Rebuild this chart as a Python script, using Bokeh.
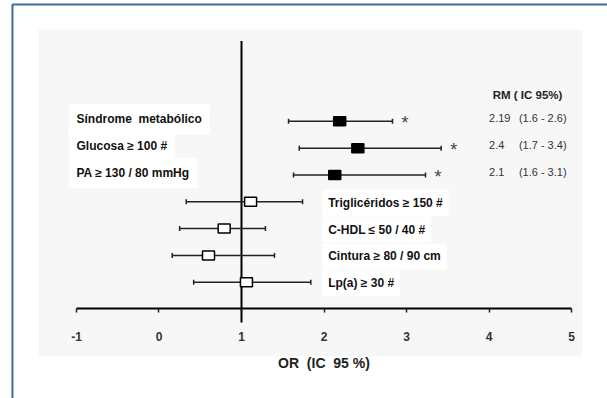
from bokeh.plotting import figure
from bokeh.models import LinearAxis, FixedTicker, Range1d
from bokeh.embed import file_html
from bokeh.resources import INLINE
from bokeh.core.properties import value

# ---- data ----
labels = ["Síndrome\u00a0 metabólico", "Glucosa ≥ 100 #", "PA ≥ 130 / 80 mmHg",
          "Triglicéridos ≥ 150 #", "C-HDL ≤ 50 / 40 #", "Cintura ≥ 80 / 90 cm", "Lp(a) ≥ 30 #"]
rows = [7, 6, 5, 4, 3, 2, 1]
est = [2.19, 2.41, 2.13, 1.11, 0.79, 0.60, 1.06]
lo = [1.57, 1.70, 1.63, 0.33, 0.25, 0.16, 0.42]
hi = [2.83, 3.42, 3.23, 1.74, 1.29, 1.40, 1.84]
significant = [True, True, True, False, False, False, False]
rm_est = ["2.19", "2.4", "2.1"]
rm_ci = ["(1.6 - 2.6)", "(1.7 - 3.4)", "(1.6 - 3.1)"]
rm_header = "RM ( IC 95%)"
x_ticks = [-1, 0, 1, 2, 3, 4, 5]
x_tick_labels = ["-1", "0", "1", "2", "3", "4", "5"]
x_title = "OR\u00a0 (IC\u00a0 95 %)"

FONT = "Liberation Sans"

p = figure(width=607, height=398, x_range=Range1d(-1.921, 5.436), y_range=Range1d(-3.34, 11.51),
           output_backend="svg", toolbar_location=None, min_border=0,
           x_axis_location=None, y_axis_location=None)
p.grid.visible = False
p.outline_line_color = None
p.background_fill_color = "white"
p.border_fill_color = "white"

# faint grey panel
p.quad(left=-1.461, right=5.133, bottom=-1.77, top=10.43, fill_color="#f7f7f7", line_color=None)

# outer blue frame (left and top)
p.line(x=[-1.776, -1.776, 5.6], y=[-3.5, 11.36, 11.36], line_color="#3d6aa8", line_width=2)

# axis
ax = LinearAxis(fixed_location=0, ticker=FixedTicker(ticks=x_ticks), bounds=(-1, 5),
                major_label_overrides={t: s for t, s in zip(x_ticks, x_tick_labels)},
                axis_line_width=2, axis_line_color="black",
                major_tick_out=4, major_tick_in=0, minor_tick_out=0, minor_tick_in=0,
                major_tick_line_width=1.5, major_tick_line_color="#222222",
                major_label_standoff=19, major_label_text_font=FONT,
                major_label_text_font_style="bold", major_label_text_font_size="12px",
                major_label_text_color="#333333",
                axis_label=x_title, axis_label_text_font=FONT, axis_label_text_font_size="14px",
                axis_label_text_font_style="bold", axis_label_text_color="#222222",
                axis_label_standoff=11)
p.add_layout(ax, "below")

# reference line at OR = 1
p.segment(x0=1, y0=-0.5, x1=1, y1=10, line_color="black", line_width=2)

# whiskers
p.segment(x0=lo, y0=rows, x1=hi, y1=rows, line_color="#222222", line_width=1.5)
p.rect(x=lo + hi, y=rows + rows, width=1.5, height=5, width_units="screen", height_units="screen",
       fill_color="#222222", line_color=None)

# boxes
fills = ["black" if s else "white" for s in significant]
p.rect(x=est, y=rows, width=12, height=9, width_units="screen", height_units="screen",
       fill_color=fills, line_color="black", line_width=1.5)

sig_idx = [i for i, s in enumerate(significant) if s]
non_idx = [i for i, s in enumerate(significant) if not s]

# asterisks
p.text(x=[hi[i] for i in sig_idx], y=[rows[i] for i in sig_idx], text=["*"] * len(sig_idx),
       x_offset=9, y_offset=2, text_font=value(FONT), text_font_size="18px",
       text_color="#444444", text_baseline="middle", text_align="left")

# labels
p.text(x=[-1] * len(sig_idx), y=[rows[i] for i in sig_idx], text=[labels[i] for i in sig_idx],
       x_offset=-8, y_offset=-2, text_font=value(FONT), text_font_size="12px", text_font_style="bold",
       text_color="#111111", text_baseline="middle", text_align="left",
       background_fill_color="white", padding=8)
p.text(x=[2.05] * len(non_idx), y=[rows[i] for i in non_idx], text=[labels[i] for i in non_idx],
       x_offset=-6, y_offset=1, text_font=value(FONT), text_font_size="12px", text_font_style="bold",
       text_color="#111111", text_baseline="middle", text_align="left",
       background_fill_color="white", padding=6)

# RM column
p.text(x=[4.467], y=[8], text=[rm_header], text_font=value(FONT), text_font_size="11.5px",
       text_font_style="bold", text_color="#222222", text_baseline="middle", text_align="center")
p.text(x=[4.0] * len(rm_est), y=rows[:3], text=rm_est, y_offset=-3, text_font=value(FONT),
       text_font_size="11px", text_color="#333333", text_baseline="middle", text_align="left")
p.text(x=[4.94] * len(rm_ci), y=rows[:3], text=rm_ci, y_offset=-3, text_font=value(FONT),
       text_font_size="11px", text_color="#333333", text_baseline="middle", text_align="right")

open("out.html", "w").write(file_html(p, INLINE))
